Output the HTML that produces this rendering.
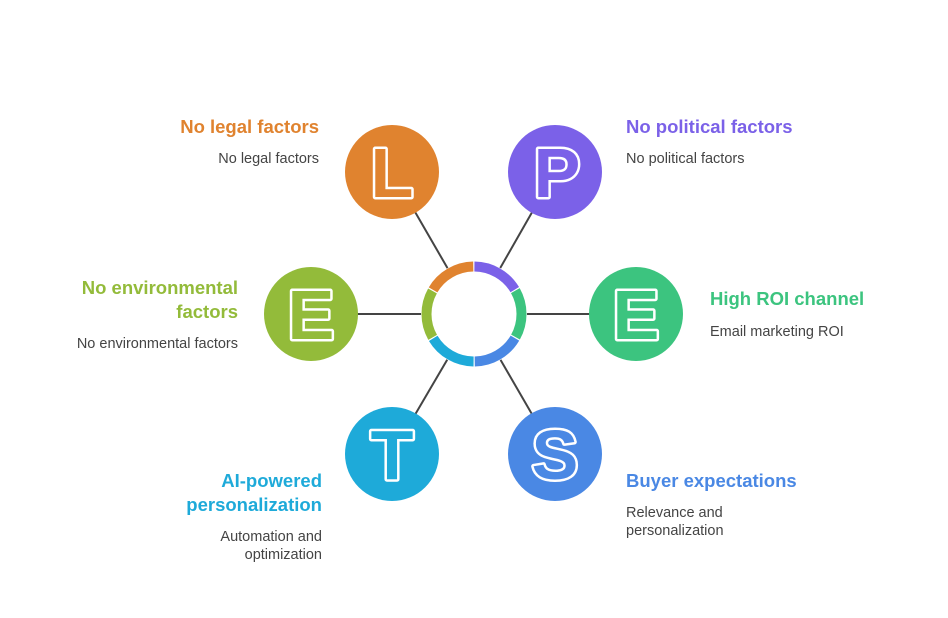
<!DOCTYPE html>
<html><head><meta charset="utf-8"><style>
html,body{margin:0;padding:0;background:#fff;}
svg{display:block;}
.t{font-family:"Liberation Sans",sans-serif;font-weight:bold;font-size:18.5px;}
.d{font-family:"Liberation Sans",sans-serif;font-size:14.5px;fill:#444;}
.L{font-family:"Liberation Sans",sans-serif;font-weight:bold;font-size:70px;text-anchor:middle;}
.Lo{stroke:#fff;stroke-width:5;stroke-linejoin:round;}
</style></head><body>
<svg width="948" height="618" viewBox="0 0 948 618" xmlns="http://www.w3.org/2000/svg">
<g stroke="#444" stroke-width="2">
<line x1="474" y1="314" x2="392" y2="172"/>
<line x1="474" y1="314" x2="555" y2="172"/>
<line x1="474" y1="314" x2="636" y2="314"/>
<line x1="474" y1="314" x2="555" y2="454"/>
<line x1="474" y1="314" x2="392" y2="454"/>
<line x1="474" y1="314" x2="311" y2="314"/>
</g>
<circle cx="474" cy="314" r="53" fill="#fff"/>
<g fill="none" stroke-width="10">
<circle cx="474" cy="314" r="47.5" stroke="#7B61E8" stroke-dasharray="48.5 250" transform="rotate(-89.5 474 314)"/>
<circle cx="474" cy="314" r="47.5" stroke="#3CC47F" stroke-dasharray="48.5 250" transform="rotate(-29.5 474 314)"/>
<circle cx="474" cy="314" r="47.5" stroke="#4A88E4" stroke-dasharray="48.5 250" transform="rotate(30.5 474 314)"/>
<circle cx="474" cy="314" r="47.5" stroke="#1EAAD9" stroke-dasharray="48.5 250" transform="rotate(90.5 474 314)"/>
<circle cx="474" cy="314" r="47.5" stroke="#93BB3A" stroke-dasharray="48.5 250" transform="rotate(150.5 474 314)"/>
<circle cx="474" cy="314" r="47.5" stroke="#E0832F" stroke-dasharray="48.5 250" transform="rotate(210.5 474 314)"/>
</g>
<circle cx="392" cy="172" r="47" fill="#E0832F"/><text class="L Lo" x="392" y="197" fill="#E0832F">L</text><text class="L" x="392" y="197" fill="#E0832F">L</text>
<circle cx="555" cy="172" r="47" fill="#7B61E8"/><text class="L Lo" x="557" y="197" fill="#7B61E8">P</text><text class="L" x="557" y="197" fill="#7B61E8">P</text>
<circle cx="636" cy="314" r="47" fill="#3CC47F"/><text class="L Lo" x="636" y="339" fill="#3CC47F">E</text><text class="L" x="636" y="339" fill="#3CC47F">E</text>
<circle cx="555" cy="454" r="47" fill="#4A88E4"/><text class="L Lo" x="555" y="479" fill="#4A88E4">S</text><text class="L" x="555" y="479" fill="#4A88E4">S</text>
<circle cx="392" cy="454" r="47" fill="#1EAAD9"/><text class="L Lo" x="392" y="479" fill="#1EAAD9">T</text><text class="L" x="392" y="479" fill="#1EAAD9">T</text>
<circle cx="311" cy="314" r="47" fill="#93BB3A"/><text class="L Lo" x="311" y="339" fill="#93BB3A">E</text><text class="L" x="311" y="339" fill="#93BB3A">E</text>

<text class="t" x="319" y="133" text-anchor="end" fill="#E0832F">No legal factors</text>
<text class="d" x="319" y="163" text-anchor="end">No legal factors</text>
<text class="t" x="626" y="133" fill="#7B61E8">No political factors</text>
<text class="d" x="626" y="163">No political factors</text>
<text class="t" x="710" y="305" fill="#3CC47F">High ROI channel</text>
<text class="d" x="710" y="336">Email marketing ROI</text>
<text class="t" x="238" y="294" text-anchor="end" fill="#93BB3A">No environmental</text>
<text class="t" x="238" y="318" text-anchor="end" fill="#93BB3A">factors</text>
<text class="d" x="238" y="348" text-anchor="end">No environmental factors</text>
<text class="t" x="322" y="487" text-anchor="end" fill="#1EAAD9">AI-powered</text>
<text class="t" x="322" y="511" text-anchor="end" fill="#1EAAD9">personalization</text>
<text class="d" x="322" y="541" text-anchor="end">Automation and</text>
<text class="d" x="322" y="559" text-anchor="end">optimization</text>
<text class="t" x="626" y="487" fill="#4A88E4">Buyer expectations</text>
<text class="d" x="626" y="517">Relevance and</text>
<text class="d" x="626" y="535">personalization</text>
</svg>
</body></html>
